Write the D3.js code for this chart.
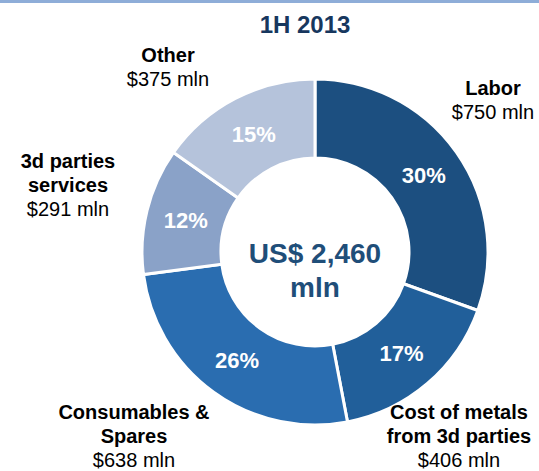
<!DOCTYPE html>
<html>
<head>
<meta charset="utf-8">
<script src="https://cdn.jsdelivr.net/npm/d3@7"></script>
<style>
  html, body { margin: 0; padding: 0; background: #fff; }
  svg { display: block; font-family: "Liberation Sans", Arial, sans-serif; }
</style>
</head>
<body>
<svg id="chart" width="539" height="471"></svg>
<script>
// Cost structure, 1H 2013 (US$ mln)
const categories = ["Labor", "Cost of metals from 3d parties", "Consumables & Spares", "3d parties services", "Other"];
const values = [750, 406, 638, 291, 375];
const percentLabels = ["30%", "17%", "26%", "12%", "15%"];
const nameLines = [["Labor"], ["Cost of metals", "from 3d parties"], ["Consumables &", "Spares"], ["3d parties", "services"], ["Other"]];
const valueLabels = ["$750 mln", "$406 mln", "$638 mln", "$291 mln", "$375 mln"];
const colors = ["#1c4f80", "#215f9a", "#2a6db0", "#8aa2c8", "#b5c3db"];
const totalLabel = ["US$ 2,460", "mln"];
const title = "1H 2013";

// Outside label anchor points (centre x, first-line baseline y)
const labelPos = [[493, 95], [459, 419], [134, 419], [68, 168], [168, 62]];
const lineGap = 24;

const svg = d3.select("#chart");
const W = 539;

// thin band along the top edge
svg.append("rect").attr("x", 0).attr("y", 0).attr("width", W).attr("height", 3).attr("fill", "#8eadd8");

svg.append("text")
  .attr("x", 305).attr("y", 33)
  .attr("text-anchor", "middle")
  .attr("font-size", 24).attr("font-weight", "bold")
  .attr("fill", "#17375e")
  .text(title);

const cx = 315, cy = 252, rOuter = 173, rInner = 94;
const g = svg.append("g").attr("transform", `translate(${cx},${cy})`);

const pie = d3.pie().sort(null).value(d => d);
const arcs = pie(values);
const arc = d3.arc().innerRadius(rInner).outerRadius(rOuter);
const labelArc = d3.arc().innerRadius(133).outerRadius(133);

g.selectAll("path.slice")
  .data(arcs)
  .join("path")
  .attr("class", "slice")
  .attr("d", arc)
  .attr("fill", (d, i) => colors[i])
  .attr("stroke", "#fff")
  .attr("stroke-width", 3);

g.selectAll("text.pct")
  .data(arcs)
  .join("text")
  .attr("class", "pct")
  .attr("transform", d => `translate(${labelArc.centroid(d)})`)
  .attr("text-anchor", "middle")
  .attr("dy", "0.35em")
  .attr("font-size", 22).attr("font-weight", "bold")
  .attr("fill", "#fff")
  .text((d, i) => percentLabels[i]);

// centre total
g.selectAll("text.total")
  .data(totalLabel)
  .join("text")
  .attr("class", "total")
  .attr("x", 0)
  .attr("y", (d, i) => 11 + i * 34)
  .attr("text-anchor", "middle")
  .attr("font-size", 28).attr("font-weight", "bold")
  .attr("fill", "#1f4e79")
  .text(d => d);

// outside category labels
categories.forEach((c, i) => {
  const [x, y] = labelPos[i];
  const t = svg.append("text").attr("text-anchor", "middle").attr("font-size", 20).attr("fill", "#000");
  nameLines[i].forEach((line, j) => {
    t.append("tspan").attr("x", x).attr("y", y + j * lineGap).attr("font-weight", "bold").text(line);
  });
  t.append("tspan").attr("x", x).attr("y", y + nameLines[i].length * lineGap).text(valueLabels[i]);
});
</script>
</body>
</html>
